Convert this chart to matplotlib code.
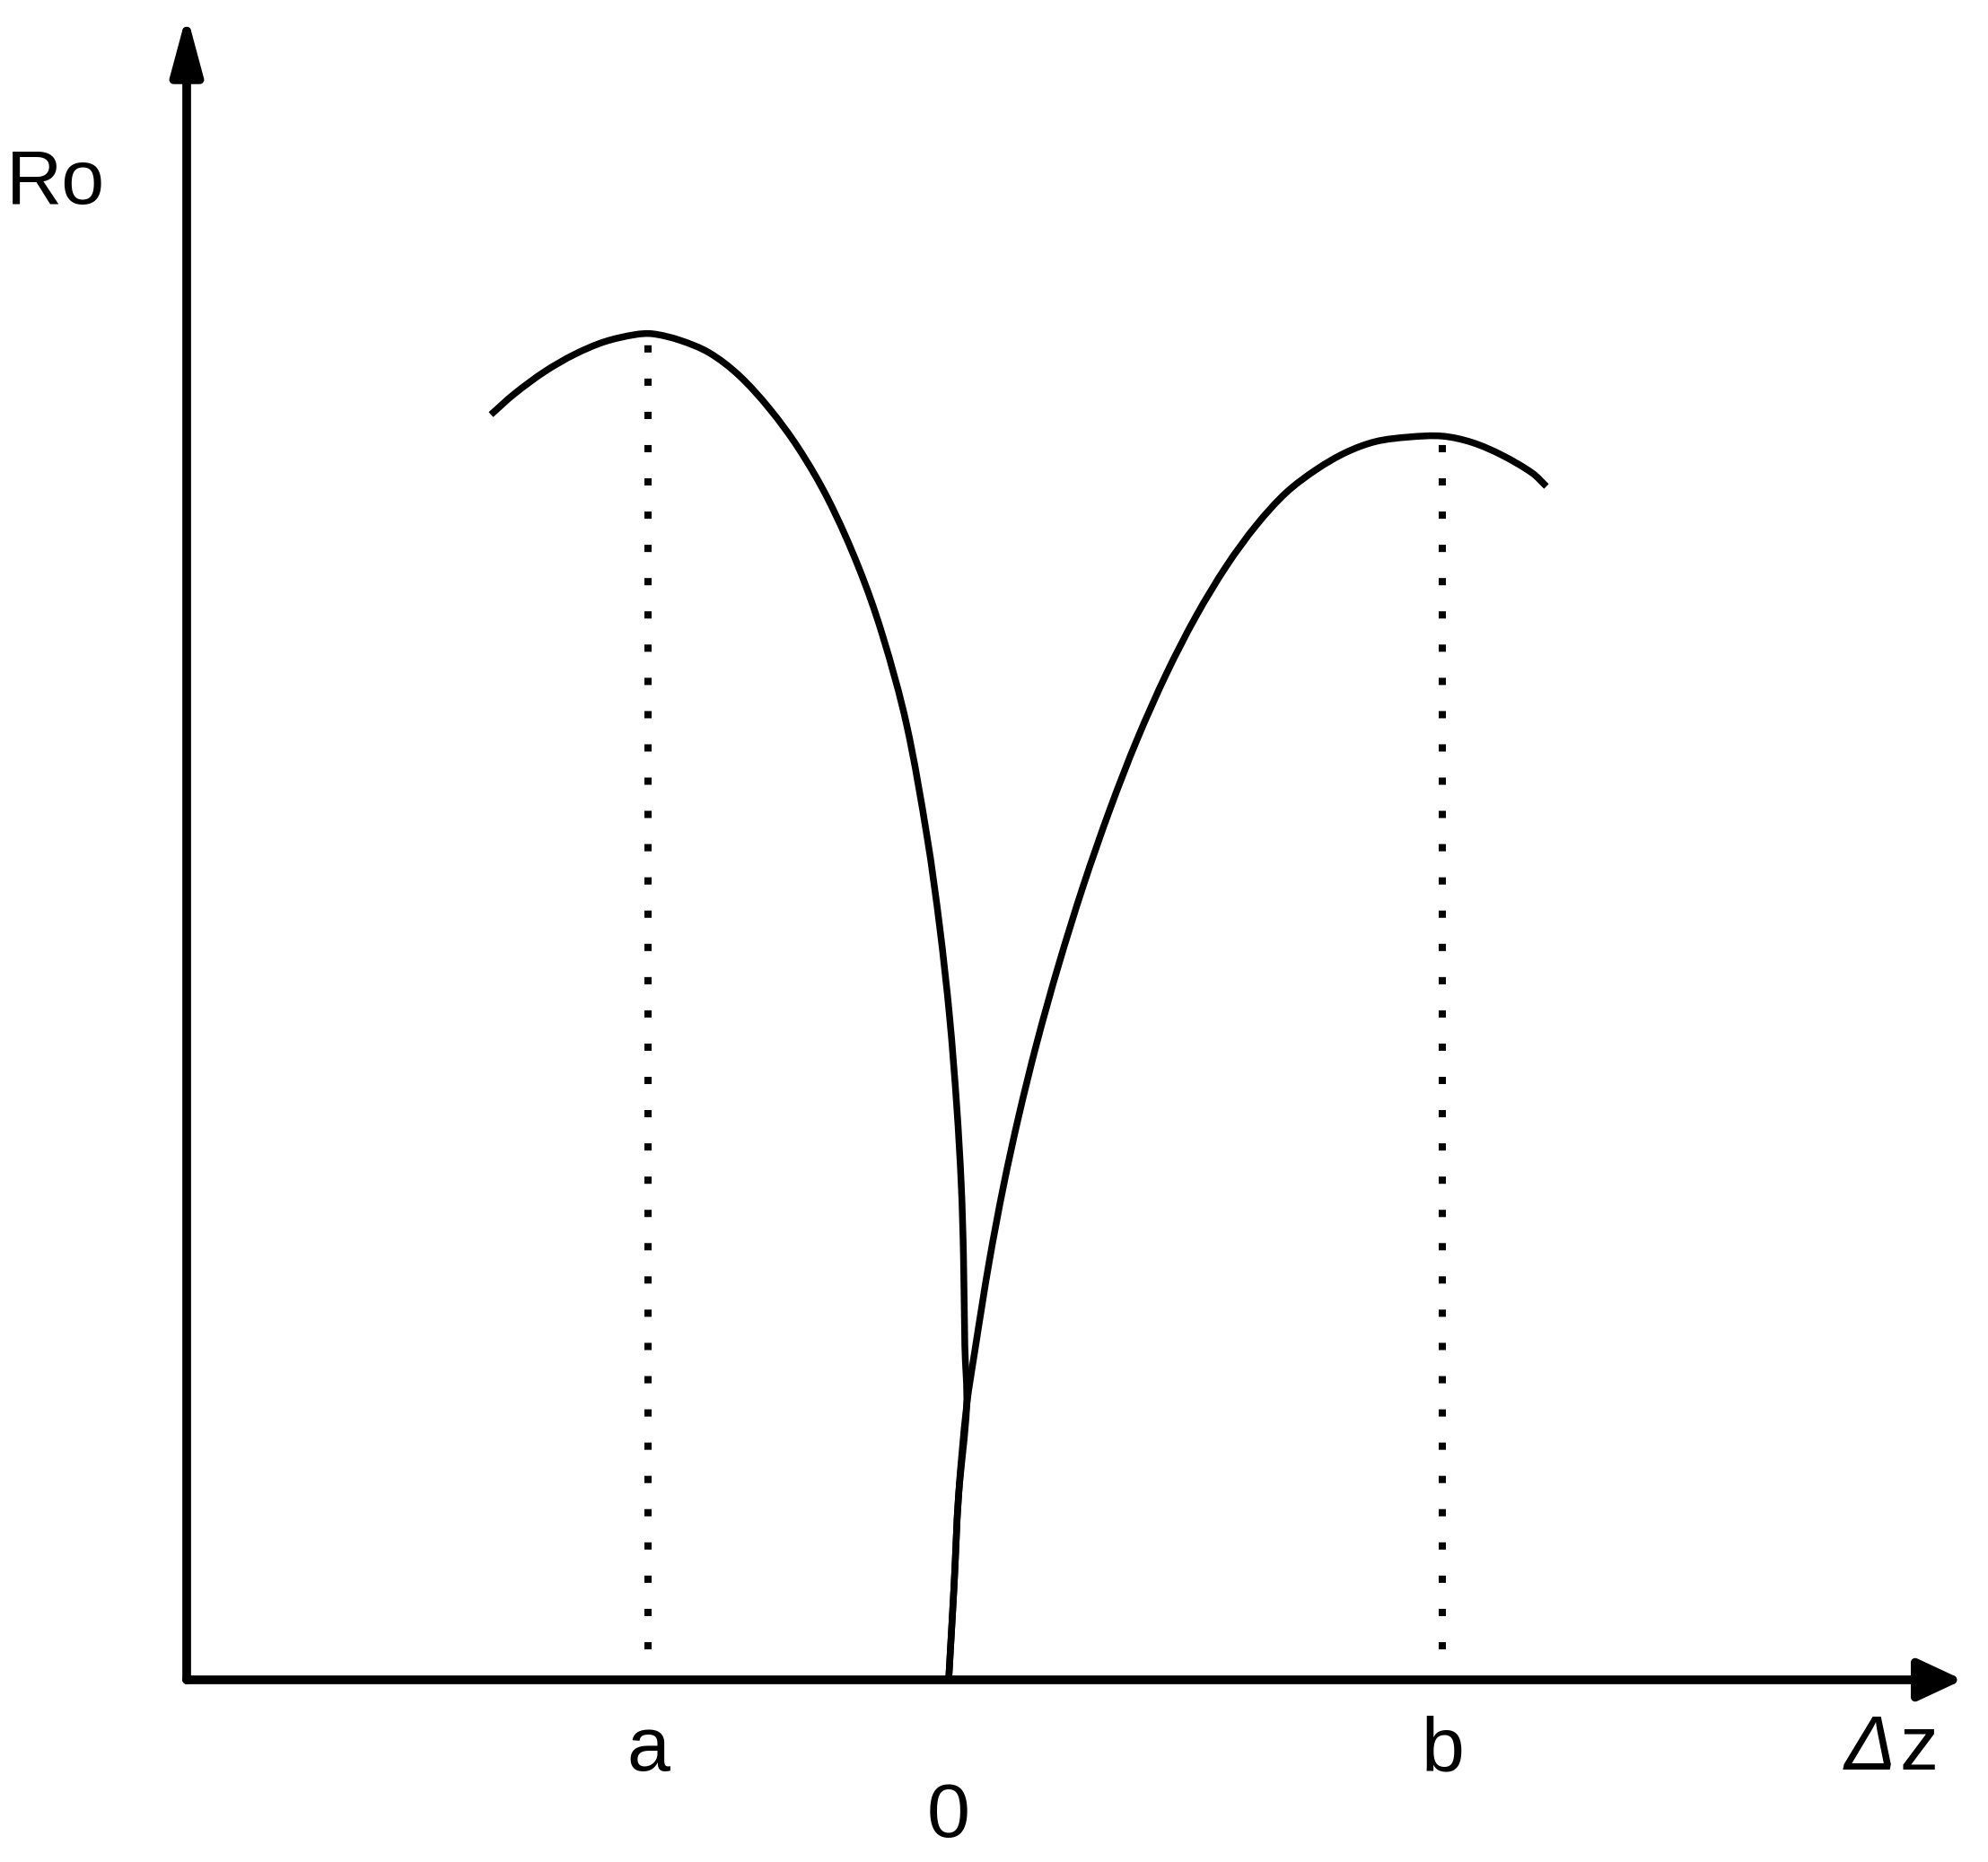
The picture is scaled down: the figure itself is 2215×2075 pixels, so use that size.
import matplotlib
matplotlib.use("Agg")
import matplotlib.pyplot as plt
from matplotlib.path import Path
from matplotlib.patches import PathPatch

# =========================================================
# DATA (arbitrary units)
# =========================================================
left_dz = [-5.10, -4.84, -4.50, -4.17, -3.84, -3.50, -3.30, -3.00, -2.67,
           -2.34, -2.00, -1.67, -1.34, -1.00, -0.74, -0.47, -0.24, -0.10,
           0.01, 0.09, 0.14, 0.165, 0.18, 0.20, 0.11, 0.06, 0.00]
left_ro = [14.10, 14.33, 14.58, 14.77, 14.91, 14.99, 15.00, 14.93, 14.79,
           14.54, 14.17, 13.72, 13.15, 12.39, 11.65, 10.65, 9.39, 8.39,
           7.39, 6.39, 5.52, 4.72, 3.72, 3.05, 2.05, 1.05, 0.00]

right_dz = [0.00, 0.03, 0.06, 0.11, 0.20, 0.30, 0.45, 0.61, 0.78, 0.98,
            1.22, 1.50, 1.80, 2.10, 2.43, 2.76, 3.10, 3.43, 3.76, 4.10,
            4.43, 4.76, 5.13, 5.50, 5.83, 6.16, 6.50, 6.66]
right_ro = [0.00, 0.52, 1.05, 2.05, 3.05, 3.72, 4.65, 5.50, 6.28, 7.09,
            7.95, 8.85, 9.71, 10.48, 11.22, 11.86, 12.42, 12.87, 13.23, 13.49,
            13.68, 13.80, 13.85, 13.86, 13.79, 13.65, 13.45, 13.30]

peak_dz = [-3.35, 5.50]
peak_ro = [15.0, 13.86]
peak_labels = ["a", "b"]

FONT = ["Liberation Sans", "DejaVu Sans"]


def smooth_path(xs, ys):
    """Smooth line through the read points (cubic Bezier, chord-length tangents)."""
    pts = list(zip(xs, ys))
    n = len(pts)

    def dist(p, q):
        return ((p[0] - q[0]) ** 2 + (p[1] - q[1]) ** 2) ** 0.5

    tangents = []
    for i in range(n):
        p_prev = pts[max(i - 1, 0)]
        p_next = pts[min(i + 1, n - 1)]
        d = dist(p_prev, pts[i]) + dist(pts[i], p_next)
        tangents.append(((p_next[0] - p_prev[0]) / d, (p_next[1] - p_prev[1]) / d))

    verts = [pts[0]]
    codes = [Path.MOVETO]
    for i in range(n - 1):
        p1, p2 = pts[i], pts[i + 1]
        h = dist(p1, p2) / 3
        c1 = (p1[0] + tangents[i][0] * h, p1[1] + tangents[i][1] * h)
        c2 = (p2[0] - tangents[i + 1][0] * h, p2[1] - tangents[i + 1][1] * h)
        verts += [c1, c2, p2]
        codes += [Path.CURVE4] * 3
    return Path(verts, codes)


# =========================================================
# FIGURE
# =========================================================
fig = plt.figure(figsize=(22.15, 20.75), dpi=100)
ax = fig.add_axes([0, 0, 1, 1])
ax.set_xlim(-10.57, 11.58)
ax.set_ylim(-2.03, 18.72)
ax.axis("off")

# axes with arrow heads
ax.annotate("", xy=(-8.49, 18.56), xytext=(-8.49, 0),
            arrowprops=dict(arrowstyle="-|>,head_length=3.9,head_width=1.05",
                            lw=7, color="black", mutation_scale=10,
                            shrinkA=0, shrinkB=0))
ax.annotate("", xy=(11.30, 0), xytext=(-8.49, 0),
            arrowprops=dict(arrowstyle="-|>,head_length=3.0,head_width=1.4",
                            lw=7, color="black", mutation_scale=10,
                            shrinkA=0, shrinkB=0))

# curves
for xs, ys in [(left_dz, left_ro), (right_dz, right_ro)]:
    ax.add_patch(PathPatch(smooth_path(xs, ys), facecolor="none",
                           edgecolor="black", lw=5.4, capstyle="butt"))

# dotted guides from the peaks
for x, y in zip(peak_dz, peak_ro):
    ax.plot([x, x], [0.34, y], color="black", lw=5.8,
            dashes=(1, 3.6), dash_capstyle="butt")

# labels
for x, lab in zip(peak_dz, peak_labels):
    ax.text(x, -1.01, lab, ha="center", va="baseline", fontsize=62, family=FONT)
ax.text(0.0, -1.75, "0", ha="center", va="baseline", fontsize=62, family=FONT)
ax.text(-9.95, 16.45, "Ro", ha="center", va="baseline", fontsize=62, family=FONT)
ax.text(10.55, -1.0, "Δ", ha="right", va="baseline", fontsize=62,
        style="italic", family=FONT)
ax.text(10.60, -1.0, "z", ha="left", va="baseline", fontsize=62, family=FONT)

fig.savefig("out.png", dpi=100, facecolor="white")
